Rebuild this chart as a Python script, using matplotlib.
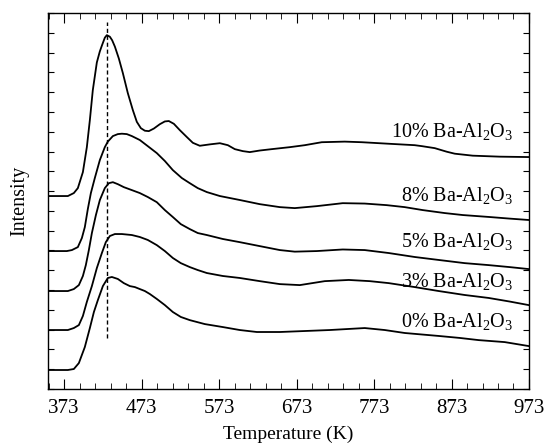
import numpy as np
import matplotlib
matplotlib.use("Agg")
from matplotlib import pyplot as plt
from matplotlib.ticker import MultipleLocator

plt.rcParams['font.family'] = ['Liberation Serif', 'DejaVu Serif']
plt.rcParams['mathtext.fontset'] = 'custom'
plt.rcParams['mathtext.rm'] = 'Liberation Serif'
plt.rcParams['mathtext.it'] = 'Liberation Serif:italic'

# temperatures (K) and stacked intensities (a.u.)
t10 = [352, 377.8, 385.5, 390.7, 397.2, 402.3, 406.2, 410, 415.2, 419, 421.7, 425.5, 428.1, 432, 435,
       438.5, 443.6, 448.8, 455.2, 461.7, 466.8, 472, 477.2, 482.3, 488.8, 496.5, 503, 508.1, 514.6,
       522.3, 531.4, 539.1, 548.1, 561, 574, 584.3, 593.3, 603.6, 612.6, 625.5, 641, 664.3, 683.6,
       705.5, 735.2, 757.2, 793, 825.5, 835, 851.4, 866.8, 877.2, 900.4, 935.2, 972.6]
i10 = [9.75, 9.75, 9.90, 10.15, 10.96, 12.22, 13.59, 15.10, 16.50, 17.05, 17.35, 17.75, 17.88, 17.80, 17.62,
       17.30, 16.70, 15.96, 14.95, 14.09, 13.50, 13.18, 13.05, 13.03, 13.16, 13.38, 13.52, 13.54, 13.40,
       13.08, 12.73, 12.44, 12.29, 12.36, 12.42, 12.32, 12.12, 12.02, 11.97, 12.05, 12.12, 12.22, 12.32,
       12.47, 12.50, 12.47, 12.39, 12.32, 12.27, 12.17, 11.99, 11.89, 11.79, 11.74, 11.72]

t8 = [352, 376.5, 383, 390.7, 395.9, 399.7, 403.6, 407.5, 412.6, 419.1, 425.5, 429.4, 435.9, 442.3,
      447.5, 453.9, 460.4, 470.7, 481, 492.6, 503, 513.3, 524.9, 535.2, 545.5, 557.2, 574, 599.7,
      625.5, 651.4, 670.7, 699.1, 732.6, 761, 789.4, 812.6, 835.9, 864.2, 887.5, 922.3, 948, 972.6]
i8 = [6.97, 6.97, 7.02, 7.17, 7.63, 8.18, 9.10, 9.90, 10.66, 11.57, 12.22, 12.50, 12.78, 12.88,
      12.90, 12.88, 12.78, 12.58, 12.27, 11.92, 11.52, 11.06, 10.66, 10.40, 10.15, 9.95, 9.75, 9.55,
      9.34, 9.19, 9.14, 9.24, 9.39, 9.37, 9.29, 9.19, 9.04, 8.89, 8.79, 8.69, 8.61, 8.54]

t5 = [352, 377.8, 385.5, 392, 397.2, 401, 404.9, 408.8, 414, 419.1, 425.5, 430.7, 435.9, 442.3,
      450, 460.4, 470.7, 481, 492.6, 503, 513.3, 523.6, 535.2, 545.5, 557.2, 577.8, 599.7, 625.5,
      651.4, 670.7, 699.1, 732.6, 761, 792, 825.5, 856.5, 890, 921, 948, 972.6]
i5 = [4.95, 4.95, 5.05, 5.25, 5.71, 6.26, 7.02, 7.88, 8.79, 9.55, 10.15, 10.40, 10.45, 10.35,
      10.20, 10.05, 9.90, 9.70, 9.44, 9.04, 8.69, 8.33, 8.08, 7.88, 7.78, 7.58, 7.42, 7.22,
      7.02, 6.94, 6.97, 7.05, 7.02, 6.87, 6.67, 6.52, 6.36, 6.26, 6.16, 6.06]

t3 = [352, 377.8, 385.5, 392, 397.2, 402.3, 408.8, 415.2, 421.7, 426.8, 432, 438.5, 447.5, 460.4,
      470.7, 481, 492.6, 503, 513.3, 523.6, 535.2, 545.5, 557.2, 577.8, 599.7, 625.5, 651.4, 677.2,
      709.4, 740.4, 767.5, 792, 825.5, 856.5, 890, 921, 948, 972.6]
i3 = [2.98, 2.98, 3.08, 3.23, 3.69, 4.40, 5.20, 6.11, 6.87, 7.42, 7.73, 7.83, 7.83, 7.78,
      7.68, 7.53, 7.27, 6.97, 6.62, 6.36, 6.16, 6.01, 5.86, 5.71, 5.61, 5.45, 5.30, 5.25,
      5.45, 5.51, 5.45, 5.35, 5.15, 4.95, 4.75, 4.60, 4.42, 4.24]

t0 = [352, 377.8, 385.5, 392, 399.7, 406.2, 411.4, 416.5, 423, 429.4, 434.6, 442.3, 450, 457.8,
      464.3, 470.7, 477.2, 483.6, 492.6, 503, 513.3, 523.6, 535.2, 554.6, 577.8, 599.7, 621.7, 651.4,
      683.6, 715.9, 761, 786.8, 812.6, 856.5, 883.6, 908.1, 941.7, 972.6]
i0 = [0.96, 0.96, 1.01, 1.31, 2.12, 3.08, 3.89, 4.49, 5.20, 5.61, 5.66, 5.56, 5.35, 5.20,
      5.15, 5.05, 4.95, 4.80, 4.55, 4.24, 3.89, 3.64, 3.48, 3.28, 3.13, 2.98, 2.88, 2.88,
      2.93, 2.98, 3.08, 2.98, 2.83, 2.68, 2.58, 2.47, 2.37, 2.17]

series = [(t10, i10), (t8, i8), (t5, i5), (t3, i3), (t0, i0)]
labels = ['10% Ba-Al$_2$O$_3$', '8% Ba-Al$_2$O$_3$', '5% Ba-Al$_2$O$_3$',
          '3% Ba-Al$_2$O$_3$', '0% Ba-Al$_2$O$_3$']
label_y = [12.73, 9.49, 7.17, 5.15, 3.13]  # text baselines
peak_t = 428
peak_span = (2.58, 18.54)

fig = plt.figure(figsize=(5.44, 4.46), dpi=100)
ax = fig.add_axes([0.088, 0.1278, 0.8844, 0.8431])

for (t, i) in series:
    ax.plot(t, i, color='black', lw=1.3)

ax.plot([peak_t, peak_t], peak_span, color='black', lw=1.0, ls=(0, (3, 2)))

for lab, y in zip(labels, label_y):
    ax.text(952, y, lab, ha='right', va='baseline', fontsize=14.5)

ax.set_xlim(352, 973)
ax.set_ylim(0, 19)
ax.xaxis.set_major_locator(MultipleLocator(100, offset=73))
ax.xaxis.set_minor_locator(MultipleLocator(20, offset=13))
ax.yaxis.set_major_locator(MultipleLocator(1))
ax.set_yticklabels([])
ax.tick_params(axis='x', which='major', direction='in', length=7, top=True, labeltop=False,
               labelsize=15, pad=7.5)
ax.tick_params(axis='x', which='minor', direction='in', length=4, top=True)
ax.tick_params(axis='y', which='major', direction='in', length=4, right=True)
for s in ax.spines.values():
    s.set_linewidth(1.0)

ax.set_xlabel('Temperature (K)', fontsize=14, labelpad=5)
ax.set_ylabel('Intensity', fontsize=14.5, labelpad=10)

fig.savefig('out.png', dpi=100)
